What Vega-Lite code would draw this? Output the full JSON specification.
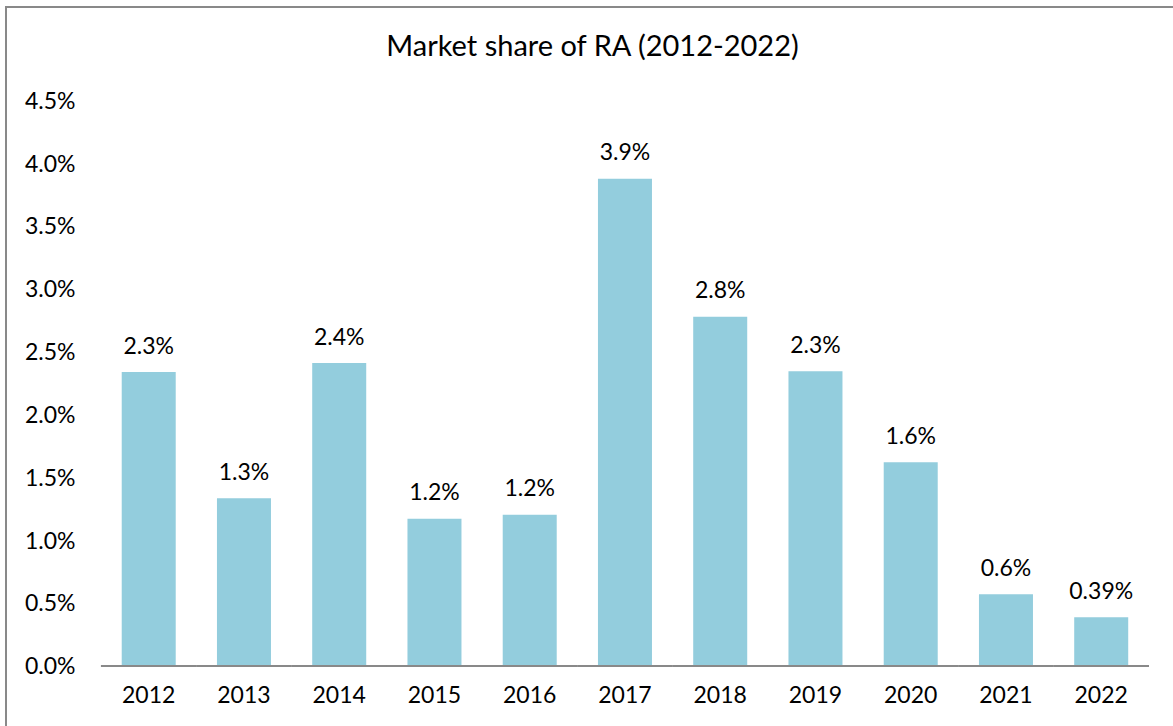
{
  "$schema": "https://vega.github.io/schema/vega-lite/v6.json",
  "width": 1173,
  "height": 725,
  "autosize": {"type": "none"},
  "padding": {"left": 6, "top": 7, "right": -6, "bottom": -6},
  "background": "white",
  "config": {
    "view": {"stroke": "#898989", "strokeWidth": 2},
    "font": "Lato"
  },
  "title": {
    "text": "Market share of RA (2012-2022)",
    "font": "Lato",
    "fontSize": 29,
    "fontWeight": "normal",
    "color": "#000000",
    "anchor": "middle",
    "frame": "group",
    "offset": -78,
    "baseline": "alphabetic"
  },
  "data": {
    "values": [
      {"year": "2012", "share": 2.339, "label": "2.3%"},
      {"year": "2013", "share": 1.334, "label": "1.3%"},
      {"year": "2014", "share": 2.411, "label": "2.4%"},
      {"year": "2015", "share": 1.172, "label": "1.2%"},
      {"year": "2016", "share": 1.204, "label": "1.2%"},
      {"year": "2017", "share": 3.878, "label": "3.9%"},
      {"year": "2018", "share": 2.780, "label": "2.8%"},
      {"year": "2019", "share": 2.345, "label": "2.3%"},
      {"year": "2020", "share": 1.621, "label": "1.6%"},
      {"year": "2021", "share": 0.570, "label": "0.6%"},
      {"year": "2022", "share": 0.387, "label": "0.39%"}
    ]
  },
  "encoding": {
    "x": {
      "field": "year",
      "type": "nominal",
      "sort": null,
      "scale": {"paddingInner": 0.433, "paddingOuter": 0.874, "align": 0.695, "round": false},
      "axis": {
        "title": null,
        "orient": "bottom",
        "labelAngle": 0,
        "ticks": false,
        "tickSize": 0,
        "domain": false,
        "grid": false,
        "offset": -29.7,
        "labelPadding": 0,
        "labelBaseline": "alphabetic",
        "labelFont": "Lato",
        "labelFontSize": 23,
        "labelColor": "#000000"
      }
    }
  },
  "layer": [
    {
      "mark": {"type": "bar", "color": "#93CDDD"},
      "encoding": {
        "y": {
          "field": "share",
          "type": "quantitative",
          "scale": {"domain": [-0.5252, 5.244], "nice": false, "zero": false},
          "axis": {
            "title": null,
            "orient": "left",
            "values": [0, 0.5, 1, 1.5, 2, 2.5, 3, 3.5, 4, 4.5],
            "labelExpr": "format(datum.value, '.1f') + '%'",
            "ticks": false,
            "tickSize": 0,
            "domain": false,
            "grid": false,
            "offset": -69,
            "labelPadding": 0,
            "labelBaseline": "alphabetic",
            "labelOffset": 7.8,
            "labelFont": "Lato",
            "labelFontSize": 23,
            "labelColor": "#000000"
          }
        },
        "y2": {"datum": 0}
      }
    },
    {
      "mark": {"type": "tick", "color": "#898989", "size": 95.6, "thickness": 2, "opacity": 1},
      "encoding": {
        "y": {"datum": 0, "type": "quantitative"}
      }
    },
    {
      "mark": {"type": "text", "font": "Lato", "fontSize": 23, "color": "#000000", "baseline": "alphabetic", "dy": -18.5},
      "encoding": {
        "y": {"field": "share", "type": "quantitative"},
        "text": {"field": "label", "type": "nominal"}
      }
    }
  ]
}
